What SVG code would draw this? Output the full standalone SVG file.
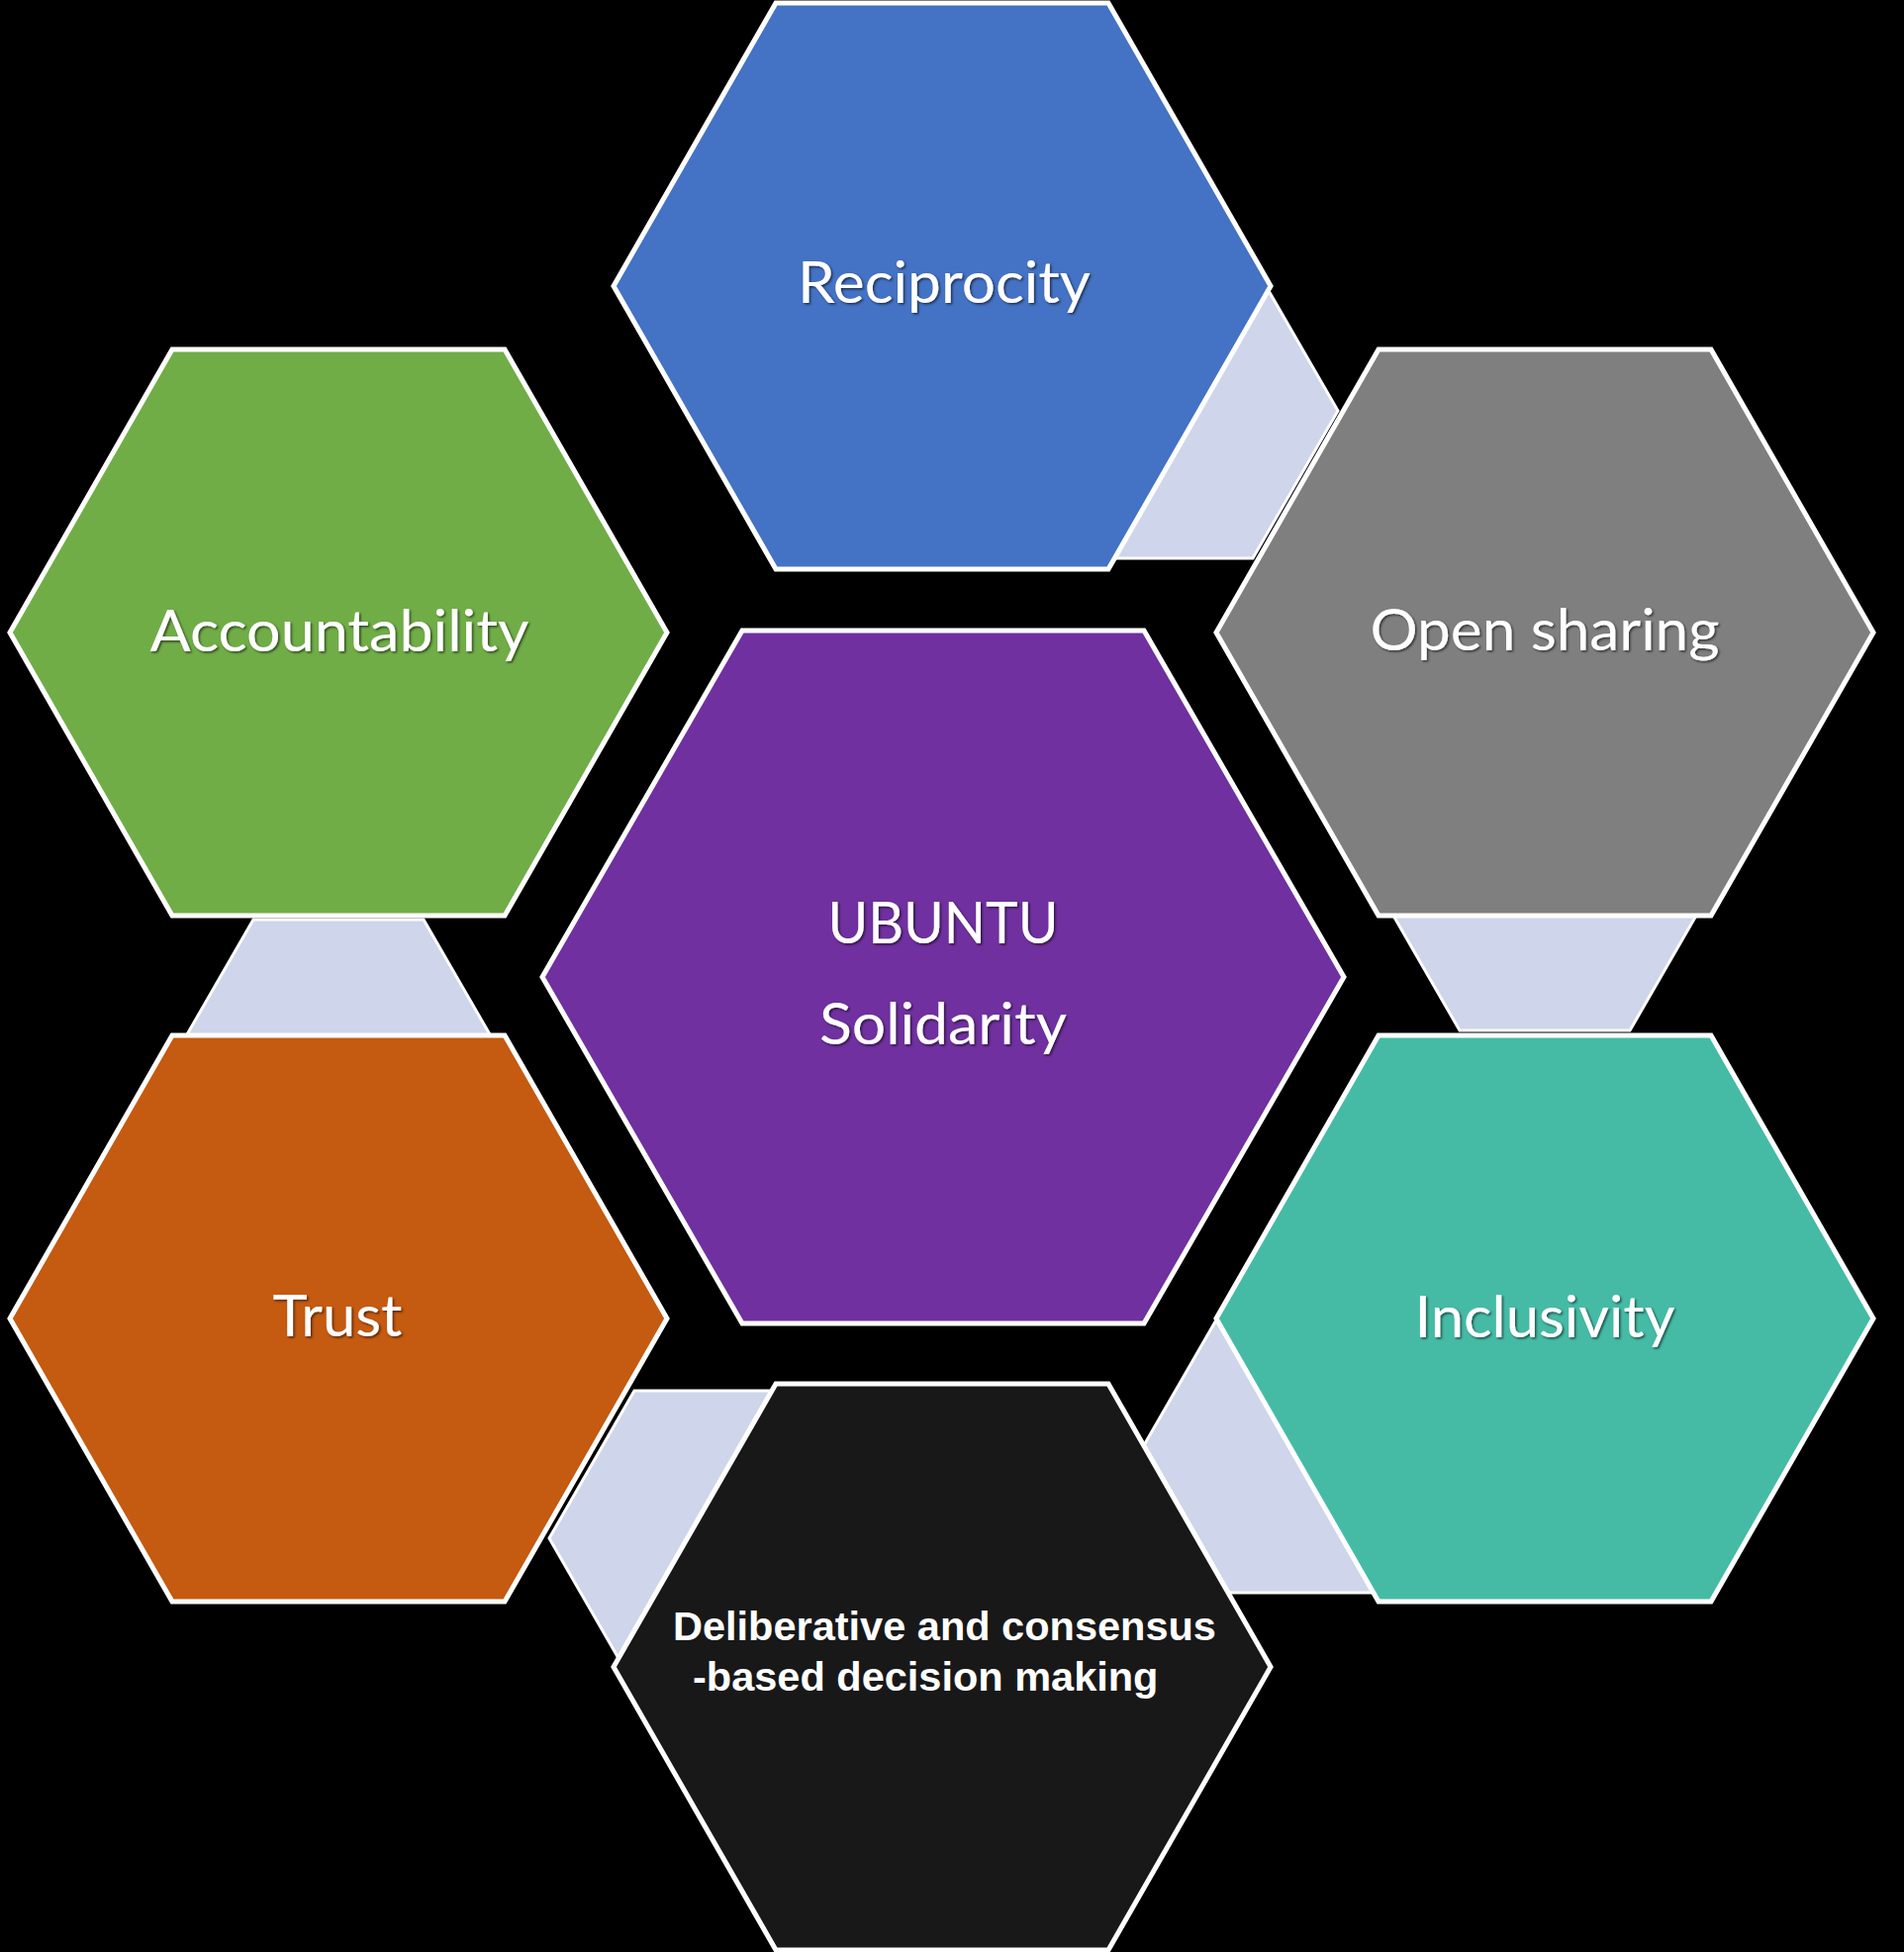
<svg xmlns="http://www.w3.org/2000/svg" width="1924" height="1972" viewBox="0 0 1924 1972">
  <defs>
    <filter id="shadow" x="-10%" y="-30%" width="120%" height="160%">
      <feDropShadow dx="1.5" dy="1.5" stdDeviation="1.3" flood-color="#000" flood-opacity="0.6"/>
    </filter>
  </defs>
  <style>
    .hex { stroke: #ffffff; stroke-width: 5; stroke-linejoin: miter; }
    .conn { fill: #cfd5ea; stroke: #ffffff; stroke-width: 3; }
    .lbl { font-family: Lato, "Open Sans", sans-serif; font-size: 58px; fill: #ffffff; text-anchor: middle; filter: url(#shadow); }
    .lblb { font-family: "Liberation Sans", Arial, sans-serif; font-weight: bold; font-size: 41.5px; fill: #ffffff; }
  </style>
  <rect width="1924" height="1972" fill="#000000"/>

  <g id="connectors">
    <polygon class="conn" points="1008,415 1094,266 1266,266 1352,415 1266,564 1094,564"/>
    <polygon class="conn" points="1389,892 1475,743 1647,743 1733,892 1647,1041 1475,1041"/>
    <polygon class="conn" points="1156,1460 1242,1311 1414,1311 1500,1460 1414,1609 1242,1609"/>
    <polygon class="conn" points="555,1554 641,1405 813,1405 899,1554 813,1703 641,1703"/>
    <polygon class="conn" points="170,1078 256,929 428,929 514,1078 428,1227 256,1227"/>
  </g>

  <g id="reciprocity">
    <polygon class="hex" fill="#4472c4" points="620,289 784,3 1120,3 1284,289 1120,575 784,575"/>
    <text class="lbl" x="954" y="306" textLength="296" lengthAdjust="spacingAndGlyphs">Reciprocity</text>
  </g>

  <g id="open-sharing">
    <polygon class="hex" fill="#7f7f7f" points="1229,639 1393,353 1729,353 1893,639 1729,925 1393,925"/>
    <text class="lbl" x="1561" y="657" textLength="353" lengthAdjust="spacingAndGlyphs">Open sharing</text>
  </g>

  <g id="inclusivity">
    <polygon class="hex" fill="#45bba5" points="1229,1332 1393,1046 1729,1046 1893,1332 1729,1618 1393,1618"/>
    <text class="lbl" x="1561" y="1351" textLength="263" lengthAdjust="spacingAndGlyphs">Inclusivity</text>
  </g>

  <g id="deliberative">
    <polygon class="hex" fill="#181818" points="620,1684 784,1398 1120,1398 1284,1684 1120,1970 784,1970"/>
    <text class="lblb" x="680" y="1657">Deliberative and consensus</text>
    <text class="lblb" x="700" y="1708">-based decision making</text>
  </g>

  <g id="trust">
    <polygon class="hex" fill="#c55a11" points="10,1332 174,1046 510,1046 674,1332 510,1618 174,1618"/>
    <text class="lbl" x="341" y="1350" textLength="131" lengthAdjust="spacingAndGlyphs">Trust</text>
  </g>

  <g id="accountability">
    <polygon class="hex" fill="#70ad47" points="10,639 174,353 510,353 674,639 510,925 174,925"/>
    <text class="lbl" x="343" y="658" textLength="383" lengthAdjust="spacingAndGlyphs">Accountability</text>
  </g>

  <g id="ubuntu">
    <polygon class="hex" fill="#7030a0" points="548,987 750,637 1156,637 1358,987 1156,1337 750,1337"/>
    <text class="lbl" x="953" y="953" textLength="233" lengthAdjust="spacingAndGlyphs">UBUNTU</text>
    <text class="lbl" x="953" y="1055" textLength="250" lengthAdjust="spacingAndGlyphs">Solidarity</text>
  </g>
</svg>
